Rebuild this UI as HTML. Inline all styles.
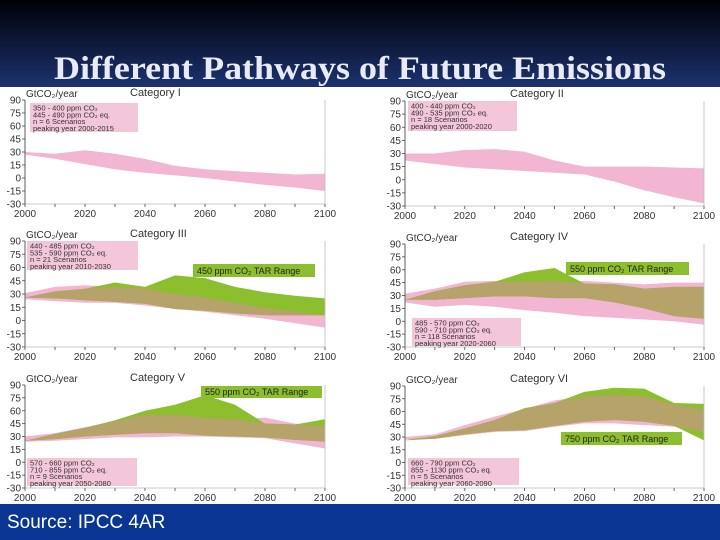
<!DOCTYPE html>
<html><head><meta charset="utf-8"><style>
html,body{margin:0;padding:0;width:720px;height:540px;overflow:hidden;background:#fff}
svg{display:block}
</style></head><body>
<svg id="chart" width="720" height="540" viewBox="0 0 720 540" xmlns="http://www.w3.org/2000/svg">
<defs><linearGradient id="tg" x1="0" y1="0" x2="0" y2="1"><stop offset="0" stop-color="#000005"/><stop offset="1" stop-color="#1c3270"/></linearGradient></defs>
<rect x="0" y="0" width="720" height="87" fill="url(#tg)"/>
<text x="54" y="79" textLength="612" lengthAdjust="spacingAndGlyphs" font-family="Liberation Serif, serif" font-weight="bold" font-size="33" fill="#e8ebf7">Different Pathways of Future Emissions</text>
<rect x="0" y="504" width="720" height="36" fill="#0a3593"/>
<text x="7" y="528" font-family="Liberation Sans, sans-serif" font-size="19" fill="#fff">Source: IPCC 4AR</text>
<g id="panels"></g>
</svg>
<script>
const years=[2000,2010,2020,2030,2040,2050,2060,2070,2080,2090,2100];
const yTicks=[90,75,60,45,30,15,0,-15,-30];
const xTickLabels=[2000,2020,2040,2060,2080,2100];
const catNames=["Category I","Category II","Category III","Category IV","Category V","Category VI"];
const p1PinkUp=[30,28,32,28,22,14,10,8,6,4,5];
const p1PinkLo=[27,22,16,10,6,3,0,-4,-8,-11,-15];
const p2PinkUp=[30,30,34,35,32,22,15,15,15,14,13];
const p2PinkLo=[22,18,14,12,10,8,6,-2,-12,-20,-27];
const p3PinkUp=[31,38,40,38,36,30,26,20,14,10,6];
const p3PinkLo=[24,22,20,20,17,13,10,6,2,-3,-8];
const p3GreenUp=[26,33,36,43,38,51,48,38,32,28,25];
const p3GreenLo=[26,25,23,21,19,13,11,8,6,6,6];
const p4PinkUp=[32,38,46,47,46,47,47,45,43,45,45];
const p4PinkLo=[22,17,19,17,13,10,6,4,2,0,-4];
const p4GreenUp=[25,35,42,46,57,62,44,43,38,40,40];
const p4GreenLo=[25,25,27,29,29,27,27,22,15,6,3];
const p5PinkUp=[30,34,41,48,55,55,52,50,52,45,42];
const p5PinkLo=[24,25,27,29,29,30,30,29,28,22,16];
const p5GreenUp=[25,33,40,49,60,67,78,67,45,44,50];
const p5GreenLo=[25,27,30,32,34,34,31,30,29,26,24];
const p6PinkUp=[30,33,44,54,63,73,78,80,78,68,62];
const p6PinkLo=[27,28,32,36,37,42,46,46,44,42,36];
const p6GreenUp=[26,31,40,50,64,70,83,88,87,70,69];
const p6GreenLo=[26,28,33,37,38,43,48,50,48,43,26];
const infoText=[
 ["350 - 400 ppm CO₂","445 - 490 ppm CO₂ eq.","n = 6 Scenarios","peaking year 2000-2015"],
 ["400 - 440 ppm CO₂","490 - 535 ppm CO₂ eq.","n = 18 Scenarios","peaking year 2000-2020"],
 ["440 - 485 ppm CO₂","535 - 590 ppm CO₂ eq.","n = 21 Scenarios","peaking year 2010-2030"],
 ["485 - 570 ppm CO₂","590 - 710 ppm CO₂ eq.","n = 118 Scenarios","peaking year 2020-2060"],
 ["570 - 660 ppm CO₂","710 - 855 ppm CO₂ eq.","n = 9 Scenarios","peaking year 2050-2080"],
 ["660 - 790 ppm CO₂","855 - 1130 ppm CO₂ eq.","n = 5 Scenarios","peaking year 2060-2090"]];
const tarText=[null,null,"450 ppm CO₂ TAR Range","550 ppm CO₂ TAR Range","550 ppm CO₂ TAR Range","750 ppm CO₂ TAR Range"];
const series=[[p1PinkUp,p1PinkLo,null,null],[p2PinkUp,p2PinkLo,null,null],[p3PinkUp,p3PinkLo,p3GreenUp,p3GreenLo],[p4PinkUp,p4PinkLo,p4GreenUp,p4GreenLo],[p5PinkUp,p5PinkLo,p5GreenUp,p5GreenLo],[p6PinkUp,p6PinkLo,p6GreenUp,p6GreenLo]];
const geo=[{x0:25,x1:325,t:100,b:204},{x0:405,x1:704,t:101,b:206},{x0:25,x1:325,t:241,b:347},{x0:405,x1:704,t:244,b:347},{x0:25,x1:325,t:385,b:488},{x0:405,x1:704,t:386,b:488}];
const infoPos=[[30,103,108,29],[408,101,109,30],[27,241,111,29],[412,318,109,28],[27,458,110,28],[408,458,111,27]];
const tarPos=[null,null,[193,264,122,13],[566,262,123,13],[201,386,121,12],[561,432,121,13]];
const NS="http://www.w3.org/2000/svg";
const root=document.getElementById('panels');
function mk(tag,attrs,parent){const e=document.createElementNS(NS,tag);for(const k in attrs)e.setAttribute(k,attrs[k]);(parent||root).appendChild(e);return e;}
function band(g,xs,ys,up,lo,fill,name){
 let d="";years.forEach((yr,i)=>{d+=(i?"L":"M")+xs(yr).toFixed(1)+","+ys(up[i]).toFixed(1);});
 for(let i=years.length-1;i>=0;i--)d+="L"+xs(years[i]).toFixed(1)+","+ys(lo[i]).toFixed(1);
 const p=mk('path',{d:d+"Z",fill:fill},g);
 
 
}
geo.forEach((G,pi)=>{
 const g=mk('g',{});
 
 
 const xs=v=>G.x0+(v-2000)/100*(G.x1-G.x0);
 const ys=v=>G.b-(v+30)/120*(G.b-G.t);
 const [pu,pl,gu,gl]=series[pi];
 band(g,xs,ys,pu,pl,'#f2b5d2','pink-range-band');
 if(gu){
  band(g,xs,ys,gu,gl,'#8cbf2e','tar-range-band');
  const ou=pu.map((v,i)=>Math.min(v,gu[i])),ol=pl.map((v,i)=>Math.max(v,gl[i]));
  const ou2=ou.map((v,i)=>Math.max(v,ol[i]));
  band(g,xs,ys,ou2,ol,'#b5a369','overlap-band');
 }
 const fr=mk('path',{d:`M${G.x0},${G.t}V${G.b}H${G.x1}V${G.t}`,fill:'none',stroke:'#bbb','stroke-width':0.8},g);
 
 
 const ax=mk('line',{x1:G.x0,y1:G.t,x2:G.x0,y2:G.b,stroke:'#444','stroke-width':0.8},g);
 
 
 yTicks.forEach(v=>{
  mk('line',{x1:G.x0-3,x2:G.x0,y1:ys(v),y2:ys(v),stroke:'#444','stroke-width':0.8},g);
  const t=mk('text',{x:G.x0-4,y:ys(v)+3.5,'text-anchor':'end','font-family':'Liberation Sans, sans-serif','font-size':10,fill:'#333'},g);
  t.textContent=v;
  
  
 });
 for(let yr=2000;yr<=2100;yr+=10)mk('line',{x1:xs(yr),x2:xs(yr),y1:G.b,y2:G.b+3,stroke:'#444','stroke-width':0.8},g);
 xTickLabels.forEach(v=>{
  const t=mk('text',{x:xs(v),y:G.b+13,'text-anchor':'middle','font-family':'Liberation Sans, sans-serif','font-size':10,fill:'#333'},g);
  t.textContent=v;
  
  
 });
 const u=mk('text',{x:G.x0+1,y:G.t-3,'font-family':'Liberation Sans, sans-serif','font-size':10,fill:'#333'},g);
 u.textContent='GtCO₂/year';
 
 
 const c=mk('text',{x:G.x0+105,y:G.t-4,'font-family':'Liberation Sans, sans-serif','font-size':11,fill:'#333'},g);
 c.textContent=catNames[pi];
 
 
 const ip=infoPos[pi];
 const ib=mk('rect',{x:ip[0],y:ip[1],width:ip[2],height:ip[3],fill:'#f4c6da'},g);
 
 
 infoText[pi].forEach((s,i)=>{
  const t=mk('text',{x:ip[0]+3,y:ip[1]+7.5+i*6.8,'font-family':'Liberation Sans, sans-serif','font-size':7.5,fill:'#333'},g);
  t.textContent=s;
  
  
 });
 if(tarPos[pi]){
  const tp=tarPos[pi];
  const r=mk('rect',{x:tp[0],y:tp[1],width:tp[2],height:tp[3],fill:'#8cbf2e'},g);
  
  
  const t=mk('text',{x:tp[0]+4,y:tp[1]+tp[3]-3,'font-family':'Liberation Sans, sans-serif','font-size':9,fill:'#222'},g);
  t.textContent=tarText[pi];
  
  
 }
});
</script>
</body></html>
